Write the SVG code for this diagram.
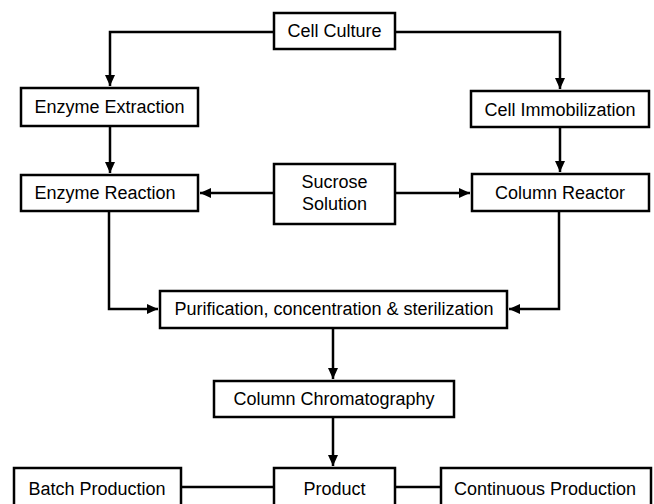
<svg xmlns="http://www.w3.org/2000/svg" width="654" height="504" viewBox="0 0 654 504">
<style>
.box{fill:#fff;stroke:#000;stroke-width:2.5}
.t{font-family:"Liberation Sans",Arial,sans-serif;font-size:18px;fill:#000;text-anchor:middle}
.c{fill:none;stroke:#000;stroke-width:2.5}
</style>
<defs>
<marker id="ah" markerUnits="userSpaceOnUse" markerWidth="12" markerHeight="10" refX="11" refY="5" orient="auto">
<path d="M0,0 L11,5 L0,10 Z" fill="#000"/>
</marker>
</defs>
<rect width="654" height="504" fill="#fff"/>
<g id="connectors">
<path class="c" d="M273,32 H110 V86" marker-end="url(#ah)"/>
<path class="c" d="M396,32 H560 V89" marker-end="url(#ah)"/>
<path class="c" d="M110,127 V173" marker-end="url(#ah)"/>
<path class="c" d="M560,128 V172" marker-end="url(#ah)"/>
<path class="c" d="M273,193 H200" marker-end="url(#ah)"/>
<path class="c" d="M396,193 H470" marker-end="url(#ah)"/>
<path class="c" d="M109,212 V309 H158" marker-end="url(#ah)"/>
<path class="c" d="M559,212 V309 H509" marker-end="url(#ah)"/>
<path class="c" d="M333,329 V379" marker-end="url(#ah)"/>
<path class="c" d="M333,418 V466" marker-end="url(#ah)"/>
<path class="c" d="M182,487 H273"/>
<path class="c" d="M396,487 H440"/>
</g>
<g id="cell-culture"><rect class="box" x="274" y="13" width="121" height="36"/><text class="t" x="334.5" y="37">Cell Culture</text></g>
<g id="enzyme-extraction"><rect class="box" x="21" y="88" width="177" height="38"/><text class="t" x="109.5" y="113">Enzyme Extraction</text></g>
<g id="cell-immobilization"><rect class="box" x="471" y="91" width="178" height="36"/><text class="t" x="560" y="116">Cell Immobilization</text></g>
<g id="enzyme-reaction"><rect class="box" x="21" y="175" width="177" height="36"/><text class="t" x="105" y="199">Enzyme Reaction</text></g>
<g id="sucrose-solution"><rect class="box" x="274" y="164" width="121" height="60"/><text class="t" x="334.5" y="188">Sucrose</text><text class="t" x="334.5" y="210">Solution</text></g>
<g id="column-reactor"><rect class="box" x="472" y="174" width="177" height="37"/><text class="t" x="560" y="199">Column Reactor</text></g>
<g id="purification"><rect class="box" x="160" y="291" width="347" height="37"/><text class="t" x="334" y="315">Purification, concentration &amp; sterilization</text></g>
<g id="column-chromatography"><rect class="box" x="214" y="381" width="240" height="36"/><text class="t" x="334" y="405">Column Chromatography</text></g>
<g id="batch-production"><rect class="box" x="14" y="468" width="167" height="44"/><text class="t" x="97" y="495">Batch Production</text></g>
<g id="product"><rect class="box" x="274" y="468" width="121" height="44"/><text class="t" x="334.5" y="495">Product</text></g>
<g id="continuous-production"><rect class="box" x="441" y="468" width="210" height="44"/><text class="t" x="545" y="495">Continuous Production</text></g>
</svg>
